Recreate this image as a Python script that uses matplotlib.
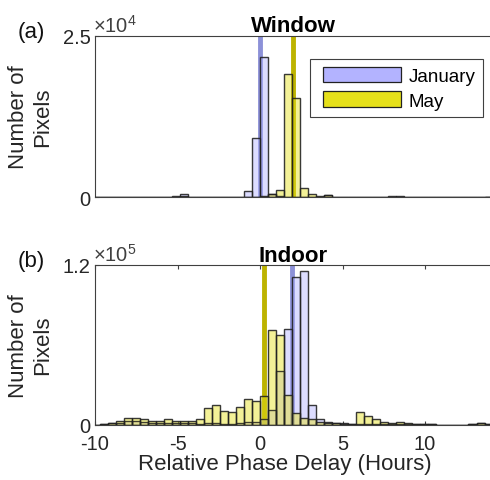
import numpy as np
import matplotlib
matplotlib.use("Agg")
import matplotlib.pyplot as plt
from matplotlib.patches import Patch, Rectangle
from matplotlib.legend_handler import HandlerPatch

plt.rcParams['font.family'] = ['Liberation Sans', 'DejaVu Sans']
plt.rcParams['mathtext.fontset'] = 'custom'
plt.rcParams['mathtext.rm'] = 'Liberation Sans'
plt.rcParams['mathtext.it'] = 'Liberation Sans'

# bin layout (bins of ~0.486 h, one edge at 0)
bin_width = 0.486
bin_index = np.arange(-21, 29)

# Window panel counts (pixels)
jan_window = [0, 0, 0, 0, 0, 0, 0, 0, 0, 0, 100, 400, 0, 0, 0, 0, 0, 60, 60, 1000,
              9170, 21800, 400, 150, 0, 0, 0, 0, 0, 300,
              0, 0, 0, 0, 0, 0, 0, 80, 80, 0,
              0, 0, 0, 0, 0, 0, 0, 0, 0, 0]
may_window = [0, 0, 0, 0, 0, 0, 0, 0, 0, 0, 0, 150, 0, 0, 0, 0, 0, 0, 0, 0,
              0, 100, 450, 1100, 19100, 15300, 1400, 470, 200, 250,
              0, 0, 60, 0, 0, 0, 0, 60, 60, 0,
              0, 0, 0, 0, 0, 0, 0, 0, 0, 0]

# Indoor panel counts (pixels)
may_indoor = [0, 750, 1500, 3000, 5000, 5250, 4500, 2500, 2500, 4000,
              2500, 3000, 3000, 4000, 12250, 15000, 10500, 9750, 13500, 19000,
              17500, 21750, 71000, 67250, 22250, 8750, 4750, 4250, 2250, 1500,
              1000, 800, 500, 9750, 6750, 4500, 2250, 1500, 1750, 1000,
              500, 300, 200, 100, 100, 100, 100, 300, 1500, 300]
jan_indoor = [0, 500, 1200, 1500, 3000, 3000, 2000, 1200, 1000, 1500,
              1500, 1000, 1000, 800, 1000, 1000, 800, 800, 1200, 1750,
              1750, 4000, 11000, 40500, 71750, 110500, 115000, 14750, 4250, 2000,
              1500, 1000, 800, 800, 600, 500, 500, 500, 400, 400,
              300, 300, 200, 100, 100, 100, 100, 300, 1200, 300]

# median phase delay lines (hours)
jan_line = [0.0, 1.93]
may_line = [2.0, 0.27]

panel_titles = ['Window', 'Indoor']
panel_tags = ['(a)', '(b)']
ymax = [2.5e4, 1.2e5]
ytick_labels = [['0', '2.5'], ['0', '1.2']]
exponents = [r'$\times10^{4}$', r'$\times10^{5}$']
xticks = [-10, -5, 0, 5, 10]

jan_face = '#b3b3ff'
may_face = '#e6e01a'
jan_linec = '#8c91d8'
may_linec = '#bdb300'
edge = '#222222'
axc = '#404040'


def inset_patch(legend, orig_handle, xdescent, ydescent, width, height, fontsize):
    # leave a little extra room left of the swatch, like the original legend
    off = 4
    return Rectangle((-xdescent + off, -ydescent), width - off, height)


fig = plt.figure(figsize=(4.9, 4.81), dpi=100)
W, H = 490.0, 481.0
boxes = [(95, 37, 198), (95, 265.7, 425.7)]

left_edges = bin_index * bin_width
data = [(jan_window, may_window), (jan_indoor, may_indoor)]

for i, (x0, ytop, ybot) in enumerate(boxes):
    ax = fig.add_axes([x0 / W, 1 - ybot / H, (491 - x0) / W, (ybot - ytop) / H])
    jan, may = data[i]
    ax.axvline(jan_line[i], color=jan_linec, lw=3.5, zorder=1)
    ax.axvline(may_line[i], color=may_linec, lw=3.5, zorder=1)
    ax.bar(left_edges, jan, width=bin_width, align='edge', color=jan_face,
           alpha=0.45, edgecolor=edge, linewidth=1.0, zorder=2)
    ax.bar(left_edges, may, width=bin_width, align='edge', color=may_face,
           alpha=0.45, edgecolor=edge, linewidth=1.0, zorder=3)
    # redraw edges darker
    ax.bar(left_edges, jan, width=bin_width, align='edge', fill=False,
           edgecolor=edge, linewidth=0.9, alpha=0.8, zorder=4)
    ax.bar(left_edges, may, width=bin_width, align='edge', fill=False,
           edgecolor=edge, linewidth=0.9, alpha=0.8, zorder=4)

    ax.set_xlim(-10, 14)
    ax.set_ylim(0, ymax[i])
    ax.set_yticks([0, ymax[i]])
    ax.set_yticklabels(ytick_labels[i])
    for s in ax.spines.values():
        s.set_color(axc)
        s.set_linewidth(0.8)
    ax.tick_params(direction='in', length=3, width=0.8, color=axc,
                   labelsize=14.5, labelcolor='#262626', pad=3)
    if i == 0:
        ax.set_xticks([])
    else:
        ax.set_xticks(xticks)
        ax.set_xticklabels(['-10', '-5', '0', '5', '10'])
        ax.tick_params(axis='x', top=True, pad=7)
    ax.set_title(panel_titles[i], fontsize=16, fontweight='bold', pad=3)
    ax.text(-0.005, 1.0, exponents[i], transform=ax.transAxes, ha='left',
            va='bottom', fontsize=14.5, color='#404040')
    fig.text(31 / W, 1 - (ytop + ybot) / 2 / H, 'Number of\nPixels', rotation=90,
             ha='center', va='center', fontsize=16, color='#262626')
    fig.text(18 / W, 1 - (ytop - 4) / H, panel_tags[i], ha='left', va='center',
             fontsize=16, color='#111111')

    if i == 0:
        handles = [Patch(facecolor=jan_face, edgecolor=edge, linewidth=0.9),
                   Patch(facecolor=may_face, edgecolor=edge, linewidth=0.9)]
        hmap = {h: HandlerPatch(patch_func=inset_patch) for h in handles}
        leg = ax.legend(handles, ['January', 'May'], loc='upper right',
                        bbox_to_anchor=(0.980, 0.857), borderaxespad=0,
                        fontsize=13.5, handlelength=4.43, handleheight=0.9,
                        labelspacing=0.35, handletextpad=0.43, borderpad=0.4,
                        fancybox=False, framealpha=1, edgecolor=axc,
                        handler_map=hmap)
        leg.get_frame().set_linewidth(0.8)

fig.text(285 / W, 1 - 465 / H, 'Relative Phase Delay (Hours)', ha='center',
         va='center', fontsize=16, color='#262626')

fig.savefig('out.png', dpi=100)
